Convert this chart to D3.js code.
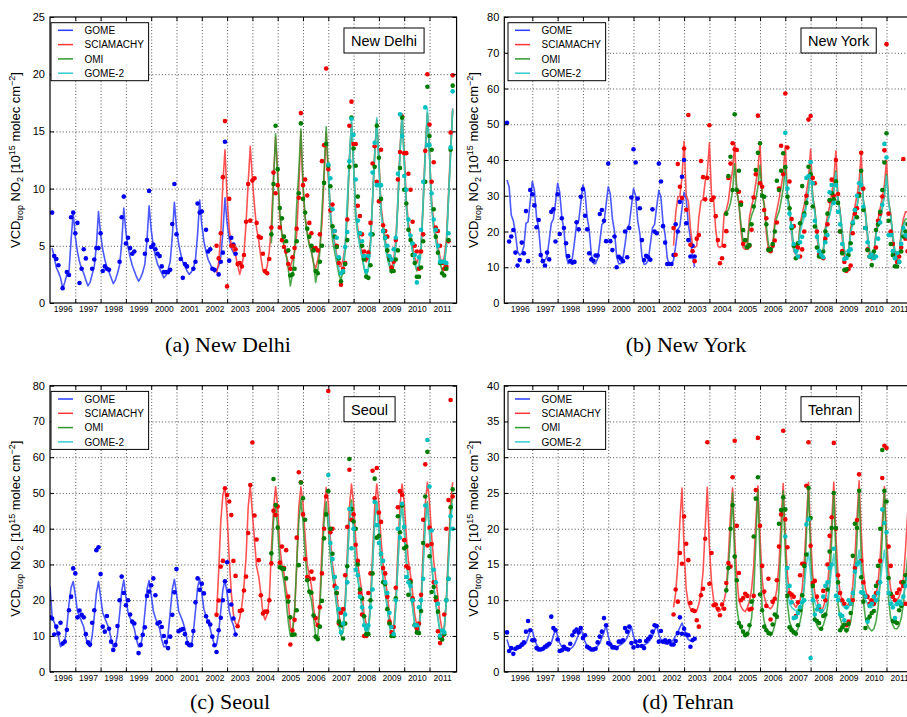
<!DOCTYPE html>
<html>
<head>
<meta charset="utf-8">
<script src="https://cdn.jsdelivr.net/npm/d3@7"></script>
<style>
  body { margin: 0; background: #fff; overflow: hidden; }
  svg { display: block; font-family: "Liberation Sans", Arial, Helvetica, sans-serif; }
  .grid line { stroke: #222; stroke-width: 0.8; stroke-dasharray: 1,2.2; }
  .grid path { display: none; }
  .ticks path { display: none; }
  .ticks line { stroke: #000; }
</style>
</head>
<body>
<div id="chart"></div>
<script>
// Monthly series, index 0 = first month given by the *Start value (months since Jan 1996)

// ---------- New Delhi ----------
var delhiGomeStart = 1;
var delhiGomeLine = [
  4.8,4.0,3.1,2.7,2.2,1.3,1.8,2.5,2.7,5.5,7.9,5.8,
  4.5,3.6,3.0,2.6,2.0,1.5,1.8,2.5,3.2,5.0,8.0,6.0,
  4.7,3.8,3.1,2.7,2.2,1.7,2.0,2.6,3.3,5.2,8.3,6.2,
  4.9,4.0,3.3,2.8,2.3,1.9,2.2,2.7,3.4,5.5,8.5,6.4,
  5.0,4.1,3.4,3.0,2.6,2.2,2.4,2.9,3.6,5.8,8.8,6.6,
  5.2,4.3,3.6,3.2,2.8,2.5,2.7,3.0,3.8,6.0,9.0,6.8,
  5.4,4.5,3.8,3.4,3.0,2.7,2.9,3.2,4.0,6.2,9.2,7.0,
  5.6,4.8,4.4,4.3,4.3];
var delhiGomeDots = [
  7.9,4.1,3.85,3.3,null,1.3,null,2.7,2.45,7.5,7.9,6.1,
  7.0,1.75,3.0,4.7,3.9,null,null,3.0,3.8,4.8,4.8,6.1,
  2.8,3.2,3.0,2.9,null,null,null,null,3.6,7.5,9.3,5.2,
  5.7,4.8,4.3,4.5,null,null,null,null,4.3,5.5,9.8,4.9,
  5.1,4.7,4.3,4.1,3.2,2.7,2.7,2.7,2.9,6.9,10.4,6.0,
  null,3.85,2.2,3.4,3.2,null,null,3.0,3.6,8.7,7.9,8.0,
  null,6.4,4.5,4.7,3.0,2.9,null,2.5,3.6,4.4,14.1,null,
  3.7,5.7,5.1,4.3,null];
var delhiSciaStart = 79;
var delhiSciaLine = [
  2.6,3.5,6.0,10.5,13.4,9.2,
  6.5,5.0,4.6,4.2,3.3,2.5,3.3,4.3,7.0,10.5,13.7,10.8,
  8.5,6.5,5.5,4.0,2.8,2.6,3.2,4.5,6.8,11.0,14.5,11.5,
  7.5,6.0,5.0,4.2,3.5,3.2,3.8,4.5,6.0,10.0,15.0,10.0,
  7.5,6.2,5.2,4.5,3.5,3.0,3.8,4.8,7.0,11.0,14.9,11.0,
  8.0,6.3,5.3,4.2,3.2,3.2,3.8,5.0,8.0,12.5,15.5,12.0,
  8.0,6.5,5.5,4.5,3.8,3.6,4.0,5.5,9.0,13.0,16.0,12.5,
  8.5,7.0,5.5,4.5,3.5,3.0,3.8,5.5,9.0,13.5,16.5,13.0,
  9.0,7.0,6.0,5.0,4.0,3.5,4.0,5.0,9.0,13.5,16.6,13.0,
  9.0,7.0,6.0,5.0,4.0,3.5,4.0,5.5,9.5,13.5,17.0];
var delhiSciaDots = [
  5.0,3.9,6.1,11.0,15.9,1.45,
  9.1,5.0,5.0,4.7,3.4,3.5,3.2,4.2,7.1,10.4,7.2,10.7,
  10.9,7.0,5.8,5.7,4.3,2.8,2.6,3.85,6.6,11.4,9.6,10.3,
  6.6,5.5,4.9,4.5,3.4,3.0,4.0,4.8,6.5,9.2,16.6,10.3,
  10.8,9.4,7.0,6.1,4.8,4.8,4.6,6.0,12.4,13.8,20.5,11.7,
  8.1,8.6,6.3,5.0,3.5,1.6,3.0,3.5,7.3,15.5,17.6,13.9,
  13.9,8.5,7.6,6.0,4.5,3.9,4.4,7.0,12.2,13.7,10.6,8.9,
  13.4,6.8,6.3,5.8,4.0,3.1,3.6,5.5,10.8,13.2,16.3,13.1,
  13.1,11.3,9.9,7.1,5.0,4.5,3.0,4.5,6.0,13.3,20.0,15.6,
  10.6,12.3,6.6,6.3,5.0,3.5,3.0,3.2,5.4,14.9,19.9];
var delhiOmiStart = 105;
var delhiOmiLine = [
  5.2,10.5,14.8,11.0,
  8.0,6.0,5.0,4.2,3.0,1.5,2.5,4.5,8.5,11.5,15.2,10.5,
  7.5,6.0,5.0,4.5,3.5,1.8,2.8,4.5,8.0,11.5,15.4,11.5,
  7.5,5.5,4.5,3.5,2.5,2.0,2.8,4.5,8.0,12.5,15.8,12.0,
  7.5,6.0,5.0,4.0,3.0,2.3,3.0,5.0,9.0,13.0,16.0,12.5,
  8.0,6.5,5.0,4.0,3.2,2.6,3.2,5.0,8.5,13.0,16.5,12.5,
  8.5,6.5,5.5,4.5,3.5,2.8,3.2,4.5,8.5,13.0,16.6,13.0,
  8.5,6.5,5.5,4.5,3.5,2.8,3.2,5.0,9.0,13.0,16.8];
var delhiOmiDots = [
  6.0,10.4,15.5,11.7,
  8.3,7.4,5.8,5.4,4.6,2.4,2.5,3.0,5.4,9.6,15.7,9.1,
  7.9,6.5,5.8,5.0,4.6,2.8,2.6,3.6,5.0,10.5,13.9,12.0,
  10.2,6.7,5.8,4.9,3.9,1.9,2.7,3.4,5.5,11.9,16.2,13.5,
  12.0,9.3,6.1,5.0,3.8,2.3,2.2,3.3,6.0,11.9,15.5,12.7,
  9.1,6.3,5.7,4.6,3.8,2.8,2.8,3.8,4.6,11.8,16.2,9.9,
  8.7,6.4,5.5,4.2,3.5,2.3,2.3,3.1,5.4,10.6,18.9,14.6,
  13.4,8.2,5.8,4.4,3.5,2.6,2.4,3.0,5.5,13.4,19.0];
var delhiGome2Start = 132;
var delhiGome2Line = [
  12.0,
  8.0,6.0,5.0,4.0,3.0,2.5,3.0,5.0,9.0,12.5,16.1,12.0,
  8.0,6.0,5.0,4.0,3.2,2.4,3.0,5.0,9.0,13.0,16.2,12.0,
  8.0,6.5,5.0,4.0,3.3,3.0,3.3,5.0,9.0,13.0,16.5,12.5,
  8.5,6.5,5.5,4.5,3.5,3.0,3.3,5.0,9.0,13.0,17.0,13.0,
  8.5,6.5,5.5,4.5,3.8,3.5,3.6,5.0,9.0,13.0,17.0];
var delhiGome2Dots = [
  12.1,
  10.9,8.2,6.3,5.7,4.0,2.6,2.8,4.9,6.2,12.4,16.1,14.7,
  10.8,7.2,6.1,5.4,4.1,2.8,4.1,6.0,11.4,14.0,10.3,10.3,
  10.3,6.3,5.7,5.0,4.1,3.8,4.7,5.7,11.3,16.5,14.6,11.1,
  9.9,7.3,5.9,5.2,4.2,1.8,4.0,6.4,10.6,17.1,13.8,13.8,
  9.6,7.3,6.4,5.0,3.6,3.6,3.6,3.5,6.1,13.6,18.5];

// ---------- New York ----------
var nyGomeStart = 0;
var nyGomeLine = [
  34.4,32.5,24.6,23.0,19.5,14.4,13.4,13.9,15.8,22.3,22.7,28.3,
  34.0,31.5,24.0,21.0,14.0,11.5,12.0,13.0,17.5,22.3,23.5,28.0,
  33.5,31.0,24.0,20.5,13.5,11.0,11.5,12.5,17.0,22.0,23.0,28.0,
  33.0,31.0,24.0,20.5,13.5,11.0,11.0,12.5,17.0,22.0,22.5,27.5,
  32.5,30.5,23.5,20.0,13.0,11.0,11.0,12.5,16.5,21.0,22.0,27.0,
  32.0,30.0,23.0,19.5,13.0,10.8,11.0,12.0,16.5,21.0,22.0,27.0,
  31.5,29.5,22.5,19.0,12.5,10.8,10.8,12.0,16.0,20.5,21.5,26.5,
  31.0,29.0,22.0,18.0,13.0,10.0];
var nyGomeDots = [
  50.4,17.2,18.6,20.4,14.1,10.5,12.0,16.9,13.9,25.7,11.7,31.6,
  30.4,27.3,21.2,23.2,13.4,11.7,10.5,14.1,12.2,25.5,26.2,17.2,
  30.4,19.3,23.7,21.0,16.7,13.1,11.7,11.3,11.5,22.6,20.6,29.7,
  31.8,24.4,20.6,13.9,12.2,11.8,13.3,13.3,24.9,26.0,23.0,17.3,
  39.0,17.3,14.8,18.6,10.0,12.9,12.4,11.7,20.0,12.8,21.0,29.5,
  43.0,39.3,29.2,26.5,17.6,12.0,13.2,12.8,12.1,26.2,20.0,19.5,
  39.0,34.0,21.5,16.9,10.9,10.9,10.9,13.4,22.0,20.0,28.3,35.3,
  40.0,22.3,17.6,13.0,16.0,13.0];
var nySciaStart = 79;
var nySciaLine = [
  16.0,25.0,29.5,30.0,35.0,
  45.2,30.0,28.5,21.0,16.0,15.5,16.0,24.0,28.5,29.0,34.0,36.5,
  44.8,30.0,29.0,20.5,16.0,15.5,16.0,25.0,26.0,28.5,33.5,37.0,
  44.7,31.0,28.0,20.0,15.5,15.0,16.0,24.0,27.0,29.5,33.5,37.0,
  45.0,30.0,28.0,19.5,15.0,14.5,15.5,23.0,26.0,29.0,32.5,36.0,
  44.0,30.0,27.0,19.0,14.5,13.5,15.0,22.0,25.0,27.5,31.0,34.5,
  43.0,29.5,26.5,18.5,14.0,13.0,14.5,21.0,24.5,27.0,30.5,34.5,
  42.5,29.0,26.0,18.0,13.0,12.5,14.0,21.0,24.0,27.0,30.0,34.0,
  42.0,28.5,25.5,18.0,13.0,12.0,13.5,20.0,23.5,26.5,29.5,33.0,
  40.0,28.0,25.0,17.5,13.0,12.0,13.5,20.0,23.5,25.5,25.5,26.0];
var nySciaDots = [
  21.0,13.5,38.9,32.5,29.4,
  43.2,26.1,52.6,16.3,14.5,11.7,18.0,19.0,39.7,35.2,29.0,35.0,
  49.7,28.8,29.5,24.3,17.6,11.1,12.5,16.0,20.1,35.0,39.0,44.7,
  43.0,42.8,31.1,28.1,16.5,17.5,15.5,16.0,20.5,29.5,36.0,52.4,
  33.5,32.5,26.0,23.7,15.0,14.5,16.0,17.5,22.5,32.0,44.0,36.0,
  58.6,43.5,34.0,23.5,21.5,16.0,15.5,13.0,15.0,20.0,30.0,51.3,
  52.3,35.0,33.5,20.0,13.5,13.5,12.5,18.0,22.0,28.5,34.5,30.0,
  40.0,30.5,20.0,14.5,11.5,9.0,9.5,10.5,19.5,25.0,26.5,30.5,
  42.0,32.0,21.0,15.0,13.0,13.5,13.0,15.5,23.0,25.0,29.8,42.7,
  72.4,25.0,20.0,16.5,14.0,11.5,13.0,15.5,40.3,18.0,14.5,20.5];
var nyOmiStart = 104;
var nyOmiLine = [
  25.5,26.0,28.0,31.5,
  39.0,31.5,27.5,22.0,17.0,15.5,16.5,22.0,24.5,26.0,29.0,32.5,
  38.5,31.0,27.0,21.5,16.5,14.5,15.5,21.5,24.0,25.5,28.5,32.0,
  38.0,30.5,26.5,21.0,16.0,14.0,15.0,21.0,23.5,25.0,28.0,31.5,
  37.5,30.0,26.0,20.5,15.5,13.5,14.5,20.5,23.0,24.5,27.5,31.0,
  37.0,29.5,25.5,20.0,15.0,13.0,14.0,20.0,22.5,24.0,27.0,30.5,
  36.5,29.0,25.0,19.5,14.5,12.5,13.5,19.5,22.0,23.5,26.5,30.0,
  36.0,28.5,24.5,19.0,14.5,12.5,13.5,19.5,22.0,23.5,23.5,23.5];
var nyOmiDots = [
  25.0,35.5,40.9,31.6,
  52.8,31.6,37.0,27.5,20.4,17.6,15.6,16.2,22.0,27.0,37.2,42.0,
  44.7,30.0,29.7,22.0,14.8,15.0,16.5,20.0,34.2,31.6,37.0,41.9,
  38.0,29.7,26.5,21.0,16.0,12.5,16.7,22.3,32.7,25.0,28.0,38.1,
  36.0,27.0,21.4,15.5,13.0,13.0,14.4,20.0,25.0,28.8,30.7,29.0,
  34.0,28.0,20.0,13.9,9.2,9.4,13.4,16.7,22.3,26.0,24.0,30.0,
  37.0,26.0,21.0,14.8,13.0,10.6,14.4,20.4,22.0,25.5,31.6,39.3,
  47.5,23.0,16.5,13.4,10.3,10.2,11.5,14.4,18.6,20.0,22.0,23.0];
var nyGome2Start = 132;
var nyGome2Line = [
  36.0,29.0,25.0,19.5,15.0,13.5,14.5,19.5,22.0,24.0,27.0,31.0,
  36.5,29.0,25.0,19.5,15.0,13.5,14.5,19.5,22.5,24.5,27.0,31.0,
  36.5,29.0,25.0,19.5,14.5,13.0,14.0,19.5,22.0,24.0,27.0,30.5,
  36.0,28.5,24.5,19.0,14.5,12.5,13.5,19.0,21.5,23.5,26.5,30.0,
  35.5,28.0,24.0,19.0,14.0,12.5,13.5,18.5,21.5,22.5,22.5,22.5];
var nyGome2Dots = [
  47.6,32.0,25.0,21.5,16.5,14.5,13.0,17.0,18.5,24.5,35.0,35.5,
  39.4,33.5,23.0,18.5,14.5,13.5,12.8,17.0,19.0,31.0,33.0,28.0,
  33.0,25.5,22.0,16.5,12.3,12.6,14.5,15.0,22.5,26.0,30.0,33.5,
  33.0,27.0,21.0,17.0,13.0,13.5,12.5,13.0,18.0,22.5,27.5,44.5,
  40.7,19.0,19.0,14.5,12.5,14.0,11.5,16.5,21.0,19.0,18.5,21.5];

// ---------- Seoul ----------
var seoulGomeStart = 0;
var seoulGomeLine = [
  23.8,15.4,13.8,12.0,9.8,7.0,7.5,8.5,12.6,19.0,23.5,25.2,
  21.5,17.0,15.4,14.0,12.5,9.5,7.5,7.0,10.0,15.4,22.0,25.2,
  21.0,16.5,15.0,13.5,12.0,9.0,7.0,7.0,10.5,16.0,22.5,25.6,
  21.0,16.5,15.0,13.5,12.0,9.0,7.0,7.0,10.5,16.5,23.0,25.5,
  21.5,17.0,15.0,13.5,12.0,9.0,7.0,7.0,10.5,16.5,23.0,25.8,
  22.0,17.0,15.5,14.0,12.0,9.0,7.0,7.0,11.0,17.0,23.5,26.1,
  22.0,17.5,15.5,14.0,12.0,9.5,7.5,7.5,11.0,17.0,23.0,25.5,
  22.0,17.0,14.5,13.0,10.5];
var seoulGomeDots = [
  15.2,14.9,10.4,12.6,10.7,13.7,7.9,8.4,11.7,17.2,21.0,28.9,
  27.5,15.2,17.1,15.9,15.2,10.5,8.2,7.6,13.7,17.2,34.0,34.8,
  27.3,12.6,11.2,15.6,12.0,8.4,6.1,7.5,12.8,20.0,26.6,22.0,
  18.6,20.0,16.0,14.0,13.5,9.5,5.2,7.5,10.3,12.4,21.2,22.4,
  24.2,26.1,21.4,13.5,13.8,12.5,10.0,8.3,6.6,9.8,15.9,22.2,
  28.7,11.3,11.7,11.9,10.5,8.0,7.5,7.5,11.4,19.4,26.1,22.9,
  24.6,21.9,15.5,14.0,13.2,9.8,7.4,5.5,11.6,15.1,20.0,25.3,
  30.6,22.6,18.8,14.9,10.4];
var seoulSciaStart = 79;
var seoulSciaLine = [
  16.0,28.0,42.0,49.5,51.5,
  44.0,32.0,22.0,16.0,13.5,13.0,15.0,18.5,24.0,32.0,46.0,52.0,
  44.3,36.8,29.4,26.6,21.9,16.3,14.5,16.0,20.0,34.0,45.2,51.7,
  46.0,35.0,30.0,27.5,23.0,20.0,12.6,10.7,16.3,29.4,46.0,51.7,
  47.0,38.0,30.0,27.0,24.0,18.0,14.0,12.5,20.0,35.0,45.0,51.5,
  47.0,37.0,30.0,26.0,22.0,16.0,13.0,12.0,20.0,33.0,46.0,52.5,
  47.0,37.0,30.0,26.0,22.0,16.0,13.5,12.0,20.0,33.0,46.0,52.5,
  47.0,37.0,30.0,26.0,22.0,15.5,13.0,12.0,20.0,34.0,46.5,52.5,
  47.5,38.0,31.0,27.0,22.0,16.0,13.0,12.5,20.0,34.0,47.0,53.0,
  47.5,38.0,31.0,26.0,21.0,15.0,11.5,12.0,20.0,34.0,47.0,53.0];
var seoulSciaDots = [
  15.9,19.9,29.4,31.0,51.3,
  49.4,47.6,43.8,31.0,26.8,12.7,17.0,17.2,22.7,26.6,38.8,52.2,
  64.1,43.7,37.0,31.2,21.4,16.3,16.8,16.8,20.0,30.3,45.0,43.8,
  46.2,30.5,35.0,29.0,34.0,21.0,7.6,11.5,14.5,37.5,55.8,53.0,
  44.0,31.5,26.5,26.0,28.0,26.0,15.0,13.0,18.0,27.5,40.0,49.0,
  78.5,39.0,40.0,24.0,22.0,13.5,16.5,17.5,27.0,40.5,56.5,42.5,
  44.0,35.5,31.0,22.0,16.0,10.0,10.0,22.0,27.5,56.2,48.5,57.0,
  44.5,41.9,29.0,27.5,21.0,14.0,11.0,12.5,23.5,46.0,50.5,49.5,
  36.8,29.5,29.0,25.5,20.5,13.0,12.0,13.5,21.5,42.5,58.0,35.3,
  40.3,35.7,25.0,20.0,11.3,8.0,10.0,16.0,40.0,48.0,76.0,49.0];
var seoulOmiStart = 105;
var seoulOmiLine = [
  30.0,42.0,47.0,
  40.0,31.0,28.5,25.0,20.0,14.0,10.0,11.5,17.0,30.0,42.0,48.0,
  42.0,33.0,26.0,22.0,20.0,15.0,10.0,9.5,18.0,30.0,42.0,47.5,
  40.0,32.0,27.0,23.0,18.0,13.0,10.0,11.0,18.0,30.0,42.0,48.0,
  40.0,30.0,26.0,22.0,18.0,13.5,10.0,11.0,18.0,30.0,42.0,47.5,
  40.0,31.0,26.0,22.0,18.0,13.0,10.0,10.5,18.0,30.0,42.0,47.0,
  40.0,31.0,26.0,22.0,18.0,13.0,10.5,11.0,18.0,30.0,42.0,47.5,
  39.0,30.0,24.0,19.0,15.0,11.0,9.5,12.0,20.0,32.0,44.0,50.0];
var seoulOmiDots = [
  33.1,53.9,46.6,
  40.3,29.2,28.9,28.7,26.1,19.6,15.2,10.3,10.4,17.2,29.8,52.9,
  48.5,42.5,25.6,22.4,22.1,15.7,9.8,9.1,12.6,19.8,37.3,44.0,
  50.5,40.0,33.0,26.5,22.0,14.0,13.0,9.3,13.5,29.5,59.5,45.5,
  42.0,40.0,30.0,23.0,20.5,15.5,10.5,10.5,20.0,27.5,54.0,37.5,
  38.0,33.0,25.0,24.5,17.5,13.5,10.0,10.0,20.5,43.5,39.0,46.5,
  34.5,35.0,21.5,25.0,20.0,13.0,11.0,10.8,17.0,36.0,49.0,61.5,
  32.3,22.3,23.7,20.8,16.8,9.5,9.0,10.5,20.0,26.0,46.0,51.0];
var seoulGome2Start = 132;
var seoulGome2Line = [
  44.0,34.0,28.0,24.0,19.0,13.0,11.0,11.5,18.0,30.0,42.0,47.0,
  40.0,31.0,26.0,22.0,18.0,13.0,11.0,11.5,18.0,30.0,42.0,47.5,
  40.0,31.0,26.0,22.0,18.0,13.0,10.5,11.0,18.0,30.0,42.0,47.0,
  40.0,31.0,26.0,22.0,18.0,13.0,11.0,11.5,18.0,30.0,42.0,47.0,
  39.0,30.0,24.0,19.0,15.0,11.0,10.0,12.0,20.0,30.0,42.0,47.0];
var seoulGome2Dots = [
  55.0,36.0,31.5,26.5,23.5,17.5,11.0,13.5,16.0,25.0,45.5,34.5,
  40.0,28.5,27.0,21.0,18.0,13.0,12.0,13.0,18.0,23.0,47.5,41.0,
  36.0,33.0,31.0,25.0,22.0,16.5,12.5,10.5,20.0,40.0,37.5,47.0,
  40.5,26.5,25.0,24.0,20.0,13.0,13.0,18.0,20.0,26.0,46.5,64.8,
  51.8,39.5,28.5,25.0,19.0,10.0,11.5,11.0,20.0,26.0,43.5,40.0];

// ---------- Tehran ----------
var tehranGomeStart = 0;
var tehranGomeLine = [
  4.5,3.5,3.3,3.1,3.2,3.3,3.4,3.5,3.7,4.0,4.8,5.8,
  5.8,4.6,3.8,3.4,3.2,3.2,3.2,3.3,3.6,4.0,5.0,6.0,
  5.0,4.0,3.5,3.2,3.0,3.0,3.2,3.4,3.8,4.5,5.3,6.3,
  5.0,4.2,3.6,3.4,3.2,3.2,3.3,3.6,4.0,4.8,5.5,6.5,
  5.0,4.0,3.6,3.5,3.5,3.6,3.8,4.0,4.3,4.8,5.5,6.3,
  5.0,4.0,3.7,3.5,3.6,3.7,3.9,4.1,4.5,5.0,5.8,6.5,
  5.2,4.5,4.0,3.9,3.9,4.0,4.2,4.5,5.0,5.5,6.2,6.8,
  6.0,5.0,4.5,4.3,4.3,4.5];
var tehranGomeDots = [
  5.5,2.9,3.3,2.5,3.2,3.4,3.5,3.8,4.1,5.6,7.1,5.8,
  4.4,4.4,3.3,3.1,3.1,3.2,3.5,3.7,3.9,7.7,6.1,5.8,
  4.5,2.9,3.0,3.5,3.2,3.1,3.9,5.1,5.6,5.9,5.5,6.1,
  4.7,5.1,3.5,3.3,3.1,3.1,3.2,4.1,4.9,5.6,7.5,6.5,
  4.0,3.8,3.4,3.4,3.3,4.2,4.2,4.4,6.1,5.6,6.3,4.0,
  3.4,4.2,3.6,4.3,3.6,3.3,4.3,4.6,4.9,5.6,6.5,6.4,
  4.2,5.7,4.2,4.4,4.1,4.3,3.8,3.8,4.3,5.4,7.6,5.3,
  6.0,5.2,5.1,3.5,4.4,4.6];
var tehranSciaStart = 79;
var tehranSciaLine = [
  9.0,11.0,15.0,21.0,25.7,
  17.0,11.5,9.5,8.8,8.5,8.3,8.5,9.5,11.0,14.0,20.0,25.8,
  17.5,12.5,10.0,9.0,8.4,8.5,9.0,10.0,11.5,16.0,22.0,25.7,
  18.4,13.3,10.0,9.1,8.6,8.4,9.0,9.8,11.5,14.7,21.0,26.0,
  19.0,13.0,10.5,9.5,9.0,8.8,9.2,10.0,11.5,15.0,21.0,26.3,
  19.0,13.5,11.0,10.0,9.5,9.0,9.5,10.0,11.5,15.5,21.0,26.5,
  19.0,13.5,11.0,10.0,9.0,8.5,9.0,10.0,12.0,15.5,21.0,26.5,
  19.0,13.5,11.0,10.0,9.5,9.0,9.5,10.0,12.0,16.0,21.5,26.7,
  19.5,14.0,11.5,10.5,10.0,9.5,10.0,10.5,12.5,16.0,21.0,25.9,
  19.0,14.0,11.5,10.5,10.0,10.0,10.5,11.5,13.0,17.0,22.0,26.0];
var tehranSciaDots = [
  8.0,11.5,9.8,16.6,15.1,
  21.7,17.9,15.6,9.6,8.6,8.5,7.2,6.3,10.7,11.6,18.6,32.1,
  12.3,16.6,9.3,9.4,8.8,7.9,9.4,8.8,12.4,15.2,14.7,27.2,
  32.3,20.4,13.8,10.0,10.3,10.9,10.6,8.7,8.8,10.6,25.4,32.7,
  20.4,14.8,11.2,9.2,13.0,7.3,9.8,10.2,12.8,17.5,22.0,33.7,
  21.3,17.4,11.0,10.8,10.5,7.8,9.7,13.5,15.1,15.1,26.0,32.1,
  17.6,12.4,12.7,10.5,9.0,8.5,11.3,10.0,15.0,19.0,21.6,32.0,
  20.0,13.5,11.0,10.0,9.5,6.5,7.0,9.5,10.0,14.5,21.2,27.6,
  15.5,12.5,10.5,10.5,9.5,10.0,9.5,11.0,12.5,15.5,27.1,31.6,
  31.3,17.5,14.8,10.5,10.0,11.0,11.5,12.5,12.0,9.5,13.5,9.5];
var tehranOmiStart = 104;
var tehranOmiLine = [
  11.0,14.5,19.0,25.0,
  15.5,9.0,7.0,6.0,5.5,5.0,5.2,6.0,7.5,11.0,18.0,25.5,
  16.0,9.0,7.0,6.0,5.5,5.2,5.5,6.5,8.0,11.5,18.0,25.3,
  16.5,9.5,7.0,6.2,5.8,5.5,6.0,7.0,8.5,12.0,19.0,25.8,
  16.5,10.0,7.5,6.5,6.0,6.0,6.5,7.5,9.0,12.0,18.5,25.2,
  16.0,9.5,7.5,6.5,6.0,5.5,6.0,7.0,9.0,12.0,18.5,25.3,
  16.0,10.0,7.5,6.5,6.0,5.7,6.0,7.0,9.0,12.5,19.0,25.3,
  16.5,10.0,7.5,6.5,6.0,6.0,6.5,7.5,9.5,13.0,16.0,19.0];
var tehranOmiDots = [
  11.4,14.5,20.0,23.3,
  16.1,12.8,6.8,6.3,5.6,5.1,5.3,6.5,9.8,18.9,24.2,27.2,
  10.8,8.6,6.3,5.8,5.4,5.3,6.6,8.0,7.7,20.7,22.6,24.4,
  22.7,10.6,6.2,5.8,5.5,5.3,6.5,8.6,10.7,14.8,16.4,25.7,
  21.5,12.0,7.3,7.1,6.8,6.0,7.8,8.0,11.5,16.8,20.1,25.0,
  20.1,12.5,5.8,6.2,6.6,5.8,6.7,8.2,16.2,20.7,20.1,25.3,
  13.2,9.8,6.1,7.3,7.7,8.2,8.5,12.0,14.8,20.0,31.0,25.3,
  23.8,13.1,10.9,7.1,7.0,6.8,8.6,9.2,12.5,13.5,13.0,12.0];
var tehranGome2Start = 132;
var tehranGome2Line = [
  14.5,11.0,9.5,9.0,8.7,8.5,8.7,9.2,10.0,12.0,15.0,16.7,
  13.5,11.0,9.7,9.0,8.5,8.2,8.5,9.0,10.0,12.0,14.5,16.5,
  13.5,11.0,10.0,9.3,9.0,8.8,9.0,9.5,10.5,12.5,15.0,17.0,
  13.5,11.5,10.0,9.5,9.0,9.0,9.2,9.6,10.5,12.5,15.0,17.0,
  14.0,11.5,10.0,9.5,9.3,9.2,9.4,9.8,10.8,12.0,13.0,14.0];
var tehranGome2Dots = [
  18.9,14.5,12.0,9.7,7.5,7.6,8.2,9.0,9.7,10.0,20.6,21.3,
  1.9,10.0,8.0,8.7,9.2,8.5,10.5,12.0,12.5,14.5,15.0,17.2,
  10.6,10.0,8.0,7.8,7.2,9.0,10.0,9.5,11.0,14.0,15.0,15.3,
  11.1,11.0,10.5,7.0,9.2,9.5,10.5,10.0,11.0,12.5,22.7,20.8,
  19.5,11.0,9.5,9.0,7.5,9.5,9.8,9.5,10.5,12.0,13.0,14.0];

// ---------- labels ----------
var seriesNames = ["GOME", "SCIAMACHY", "OMI", "GOME-2"];
var yearLabels = [1996,1997,1998,1999,2000,2001,2002,2003,2004,2005,2006,2007,2008,2009,2010,2011];
var delhiYTicks = [0,5,10,15,20,25];
var nyYTicks = [0,10,20,30,40,50,60,70,80];
var seoulYTicks = [0,10,20,30,40,50,60,70,80];
var tehranYTicks = [0,5,10,15,20,25,30,35,40];

// ---------- layout ----------
var svgWidth = 907;
var svgHeight = 717;
var plotHeight = 286;
var pxPerYear = 25.3;
var xEnd = 2012.07;

var lineColors = ["#2b3bff", "#ff3535", "#2f9a2f", "#35cccc"];
var dotColors = ["#0000f0", "#f00000", "#007d00", "#00c0c0"];

var panels = [
  { title: "New Delhi", caption: "(a) New Delhi", left: 50, top: 17, x0: 1996.0,
    yTicks: delhiYTicks, labelX: 20, captionX: 228, captionY: 352,
    series: [[delhiGomeStart, delhiGomeLine, delhiGomeDots], [delhiSciaStart, delhiSciaLine, delhiSciaDots],
             [delhiOmiStart, delhiOmiLine, delhiOmiDots], [delhiGome2Start, delhiGome2Line, delhiGome2Dots]] },
  { title: "New York", caption: "(b) New York", left: 504.3, top: 17, x0: 1995.893,
    yTicks: nyYTicks, labelX: 478, captionX: 686, captionY: 352,
    series: [[nyGomeStart, nyGomeLine, nyGomeDots], [nySciaStart, nySciaLine, nySciaDots],
             [nyOmiStart, nyOmiLine, nyOmiDots], [nyGome2Start, nyGome2Line, nyGome2Dots]] },
  { title: "Seoul", caption: "(c) Seoul", left: 50, top: 385.7, x0: 1996.0,
    yTicks: seoulYTicks, labelX: 20, captionX: 230, captionY: 709,
    series: [[seoulGomeStart, seoulGomeLine, seoulGomeDots], [seoulSciaStart, seoulSciaLine, seoulSciaDots],
             [seoulOmiStart, seoulOmiLine, seoulOmiDots], [seoulGome2Start, seoulGome2Line, seoulGome2Dots]] },
  { title: "Tehran", caption: "(d) Tehran", left: 504.3, top: 385.7, x0: 1995.893,
    yTicks: tehranYTicks, labelX: 478, captionX: 688, captionY: 709,
    series: [[tehranGomeStart, tehranGomeLine, tehranGomeDots], [tehranSciaStart, tehranSciaLine, tehranSciaDots],
             [tehranOmiStart, tehranOmiLine, tehranOmiDots], [tehranGome2Start, tehranGome2Line, tehranGome2Dots]] }
];

var svg = d3.select("#chart")
  .append("svg")
  .attr("width", svgWidth)
  .attr("height", svgHeight);

// turn a monthly array into {t, v} points
function toPoints(start, values) {
  return values.map(function(v, i) {
    return { t: 1996 + (start + i) / 12, v: v };
  });
}

panels.forEach(function(p, pi) {
  var width = (xEnd - p.x0) * pxPerYear;
  var bottom = p.top + plotHeight;
  var yMax = p.yTicks[p.yTicks.length - 1];

  var xScale = d3.scaleLinear().domain([p.x0, xEnd]).range([p.left, p.left + width]);
  var yScale = d3.scaleLinear().domain([0, yMax]).range([bottom, p.top]);

  var g = svg.append("g");

  g.append("clipPath").attr("id", "clip" + pi)
    .append("rect")
    .attr("x", p.left).attr("y", p.top)
    .attr("width", width).attr("height", plotHeight);

  // dotted grid
  var yearBounds = yearLabels.slice(1);
  g.append("g").attr("class", "grid")
    .attr("transform", `translate(0, ${bottom})`)
    .call(d3.axisBottom(xScale).tickValues(yearBounds).tickSize(-plotHeight).tickFormat(""));
  g.append("g").attr("class", "grid")
    .attr("transform", `translate(${p.left}, 0)`)
    .call(d3.axisLeft(yScale).tickValues(p.yTicks.slice(1, -1)).tickSize(-width).tickFormat(""));

  // data
  var plot = g.append("g").attr("clip-path", `url(#clip${pi})`);
  var line = d3.line()
    .defined(function(d) { return d.v != null; })
    .x(function(d) { return xScale(d.t); })
    .y(function(d) { return yScale(d.v); });

  p.series.forEach(function(s, si) {
    plot.append("path")
      .datum(toPoints(s[0], s[1]))
      .attr("fill", "none")
      .attr("stroke", lineColors[si])
      .attr("stroke-opacity", 0.85)
      .attr("stroke-width", 1.6)
      .attr("stroke-linejoin", "round")
      .attr("d", line);
  });
  p.series.forEach(function(s, si) {
    plot.selectAll(".dot" + si)
      .data(toPoints(s[0], s[2]).filter(function(d) { return d.v != null; }))
      .enter()
      .append("circle")
      .attr("cx", function(d) { return xScale(d.t); })
      .attr("cy", function(d) { return yScale(d.v); })
      .attr("r", 2.3)
      .attr("fill", dotColors[si]);
  });

  // inward ticks on all four sides
  g.append("g").attr("class", "ticks")
    .attr("transform", `translate(${p.left}, 0)`)
    .call(d3.axisLeft(yScale).tickValues(p.yTicks).tickSize(-4).tickPadding(5))
    .selectAll("text").attr("font-size", 11).attr("fill", "#000")
    .attr("font-family", "Liberation Sans, Arial, sans-serif");
  g.append("g").attr("class", "ticks")
    .attr("transform", `translate(${p.left + width}, 0)`)
    .call(d3.axisRight(yScale).tickValues(p.yTicks).tickSize(-4).tickFormat(""));
  g.append("g").attr("class", "ticks")
    .attr("transform", `translate(0, ${bottom})`)
    .call(d3.axisBottom(xScale).tickValues(yearBounds).tickSize(-4).tickFormat(""));
  g.append("g").attr("class", "ticks")
    .attr("transform", `translate(0, ${p.top})`)
    .call(d3.axisTop(xScale).tickValues(yearBounds).tickSize(-4).tickFormat(""));

  // year labels centred in each year
  g.append("g").attr("class", "ticks")
    .attr("transform", `translate(0, ${bottom})`)
    .call(d3.axisBottom(xScale)
      .tickValues(yearLabels.map(function(yr) { return yr + 0.5; }))
      .tickSize(0).tickPadding(3.2)
      .tickFormat(function(d) { return Math.floor(d); }))
    .selectAll("text").attr("font-size", 8.5).attr("fill", "#000")
    .attr("font-family", "Liberation Sans, Arial, sans-serif");

  // frame
  g.append("rect")
    .attr("x", p.left).attr("y", p.top)
    .attr("width", width).attr("height", plotHeight)
    .attr("fill", "none").attr("stroke", "#000").attr("stroke-width", 1.2);

  // y-axis label
  var lab = g.append("text")
    .attr("transform", `translate(${p.labelX}, ${p.top + plotHeight / 2}) rotate(-90)`)
    .attr("text-anchor", "middle")
    .attr("font-size", 13);
  lab.append("tspan").text("VCD");
  lab.append("tspan").attr("font-size", 9).attr("dy", 3).text("trop");
  lab.append("tspan").attr("dy", -3).text(" NO");
  lab.append("tspan").attr("font-size", 9).attr("dy", 3).text("2");
  lab.append("tspan").attr("dy", -3).text(" [10");
  lab.append("tspan").attr("font-size", 9).attr("dy", -5).text("15");
  lab.append("tspan").attr("dy", 5).text(" molec cm");
  lab.append("tspan").attr("font-size", 9).attr("dy", -5).text("\u22122");
  lab.append("tspan").attr("dy", 5).text("]");

  // legend
  var legX = xScale(1996.04);
  var legY = p.top + 5.7;
  var legend = g.append("g");
  legend.append("rect")
    .attr("x", legX).attr("y", legY)
    .attr("width", 97.6).attr("height", 58)
    .attr("fill", "#fff").attr("stroke", "#000").attr("stroke-width", 1);
  seriesNames.forEach(function(name, i) {
    var ry = legY + 7.6 + i * 14.3;
    legend.append("line")
      .attr("x1", legX + 7).attr("x2", legX + 22)
      .attr("y1", ry).attr("y2", ry)
      .attr("stroke", lineColors[i]).attr("stroke-width", 1.5);
    legend.append("text")
      .attr("x", legX + 33.5).attr("y", ry + 3.6)
      .attr("font-size", 10)
      .text(name);
  });

  // city title box
  var boxX = xScale(2007.62);
  var boxY = p.top + 11;
  var titleBox = g.append("rect")
    .attr("x", boxX).attr("y", boxY).attr("height", 25)
    .attr("fill", "#fff").attr("stroke", "#000").attr("stroke-width", 1);
  var title = g.append("text")
    .attr("x", boxX + 7).attr("y", boxY + 17.8)
    .attr("font-size", 14.5)
    .text(p.title);
  titleBox.attr("width", title.node().getComputedTextLength() + 14);

  // caption
  svg.append("text")
    .attr("x", p.captionX).attr("y", p.captionY)
    .attr("text-anchor", "middle")
    .attr("font-family", "Liberation Serif, Times New Roman, serif")
    .attr("font-size", 22)
    .text(p.caption);
});
</script>
</body>
</html>
